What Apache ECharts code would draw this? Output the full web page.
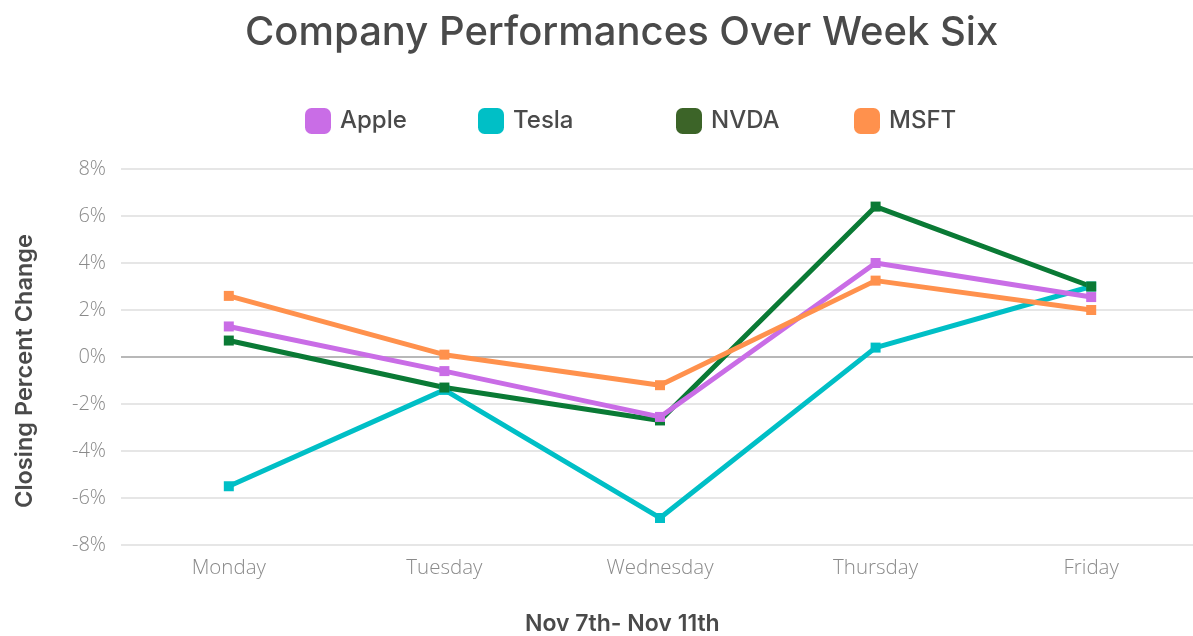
<!DOCTYPE html>
<html>
<head>
<meta charset="utf-8"/>
<title>Company Performances Over Week Six</title>
<script src="https://cdn.jsdelivr.net/npm/echarts@6/dist/echarts.min.js"></script>
<style>
    html, body { margin: 0; padding: 0; background: #fff; }
    #chart { width: 1193px; height: 636px; }
</style>
</head>
<body>
<div id="chart"></div>
<script>
    // data
    var days = ['Monday', 'Tuesday', 'Wednesday', 'Thursday', 'Friday'];
    var apple = [1.3, -0.6, -2.55, 4.0, 2.55];
    var tesla = [-5.5, -1.4, -6.85, 0.4, 3.0];
    var nvda = [0.7, -1.3, -2.7, 6.4, 3.0];
    var msft = [2.6, 0.1, -1.2, 3.25, 2.0];
    var yTicks = [-8, -6, -4, -2, 0, 2, 4, 6, 8];

    var textDark = '#4a4a4a';
    var textGray = '#8a8a8a';

    // one legend per item so the spacing can match the original
    function legendAt(name, x, iconColor){
        return {
            left: x,
            top: 103,
            itemWidth: 26,
            itemHeight: 26,
            icon: 'roundRect',
            selectedMode: false,
            textStyle: { color: textDark, fontSize: 24, fontFamily: 'Inter', fontWeight: 500, padding: [0, 0, 0, 4] },
            data: [{ name: name, itemStyle: { color: iconColor } }]
        };
    }

    function lineSeries(name, color, data){
        return {
            name: name,
            type: 'line',
            data: data,
            symbol: 'rect',
            symbolSize: 10,
            lineStyle: { width: 5, color: color },
            itemStyle: { color: color },
            z: 3
        };
    }

    var chart = echarts.init(document.getElementById('chart'));

    var series = [
        lineSeries('Tesla', '#00bfc6', tesla),
        lineSeries('NVDA', '#0a7a35', nvda),
        lineSeries('Apple', '#c96de6', apple),
        lineSeries('MSFT', '#ff914d', msft)
    ];
    // darker zero line
    series[0].markLine = {
        silent: true,
        symbol: 'none',
        label: { show: false },
        lineStyle: { color: '#a9a9a9', width: 1.5, type: 'solid' },
        data: [{ yAxis: 0 }],
        z: 1
    };

    var option = {
        animation: false,
        backgroundColor: '#fff',
        title: [
            {
                text: 'Company Performances Over Week Six',
                left: 240,
                top: 8,
                textStyle: { color: textDark, fontSize: 40, fontFamily: 'Inter', fontWeight: 500 }
            },
            {
                text: 'Nov 7th- Nov 11th',
                left: 520,
                top: 608,
                textStyle: { color: textDark, fontSize: 23, fontFamily: 'Inter', fontWeight: 600 }
            }
        ],
        legend: [
            legendAt('Apple', 300, '#c96de6'),
            legendAt('Tesla', 473, '#00bfc6'),
            legendAt('NVDA', 671, '#3c6428'),
            legendAt('MSFT', 849, '#ff914d')
        ],
        grid: { left: 121, top: 169, width: 1078, height: 376, outerBoundsMode: 'none' },
        xAxis: {
            type: 'category',
            data: days,
            boundaryGap: true,
            axisLine: { show: false },
            axisTick: { show: false },
            axisLabel: { color: textGray, fontSize: 20.5, fontFamily: 'Open Sans', fontWeight: 300, margin: 13 }
        },
        yAxis: {
            type: 'value',
            min: yTicks[0],
            max: yTicks[yTicks.length - 1],
            interval: 2,
            name: 'Closing Percent Change',
            nameLocation: 'middle',
            nameGap: 84,
            nameTextStyle: { color: textDark, fontSize: 23.5, fontFamily: 'Inter', fontWeight: 600, padding: [0, 28, 0, 0] },
            axisLine: { show: false },
            axisTick: { show: false },
            splitLine: { lineStyle: { color: '#dedede', width: 1.5 } },
            axisLabel: {
                color: textGray, fontSize: 20, fontFamily: 'Open Sans', fontWeight: 300, margin: 15,
                formatter: function(v){ return v + '%'; }
            }
        },
        series: series
    };

    chart.setOption(option);
</script>
</body>
</html>
